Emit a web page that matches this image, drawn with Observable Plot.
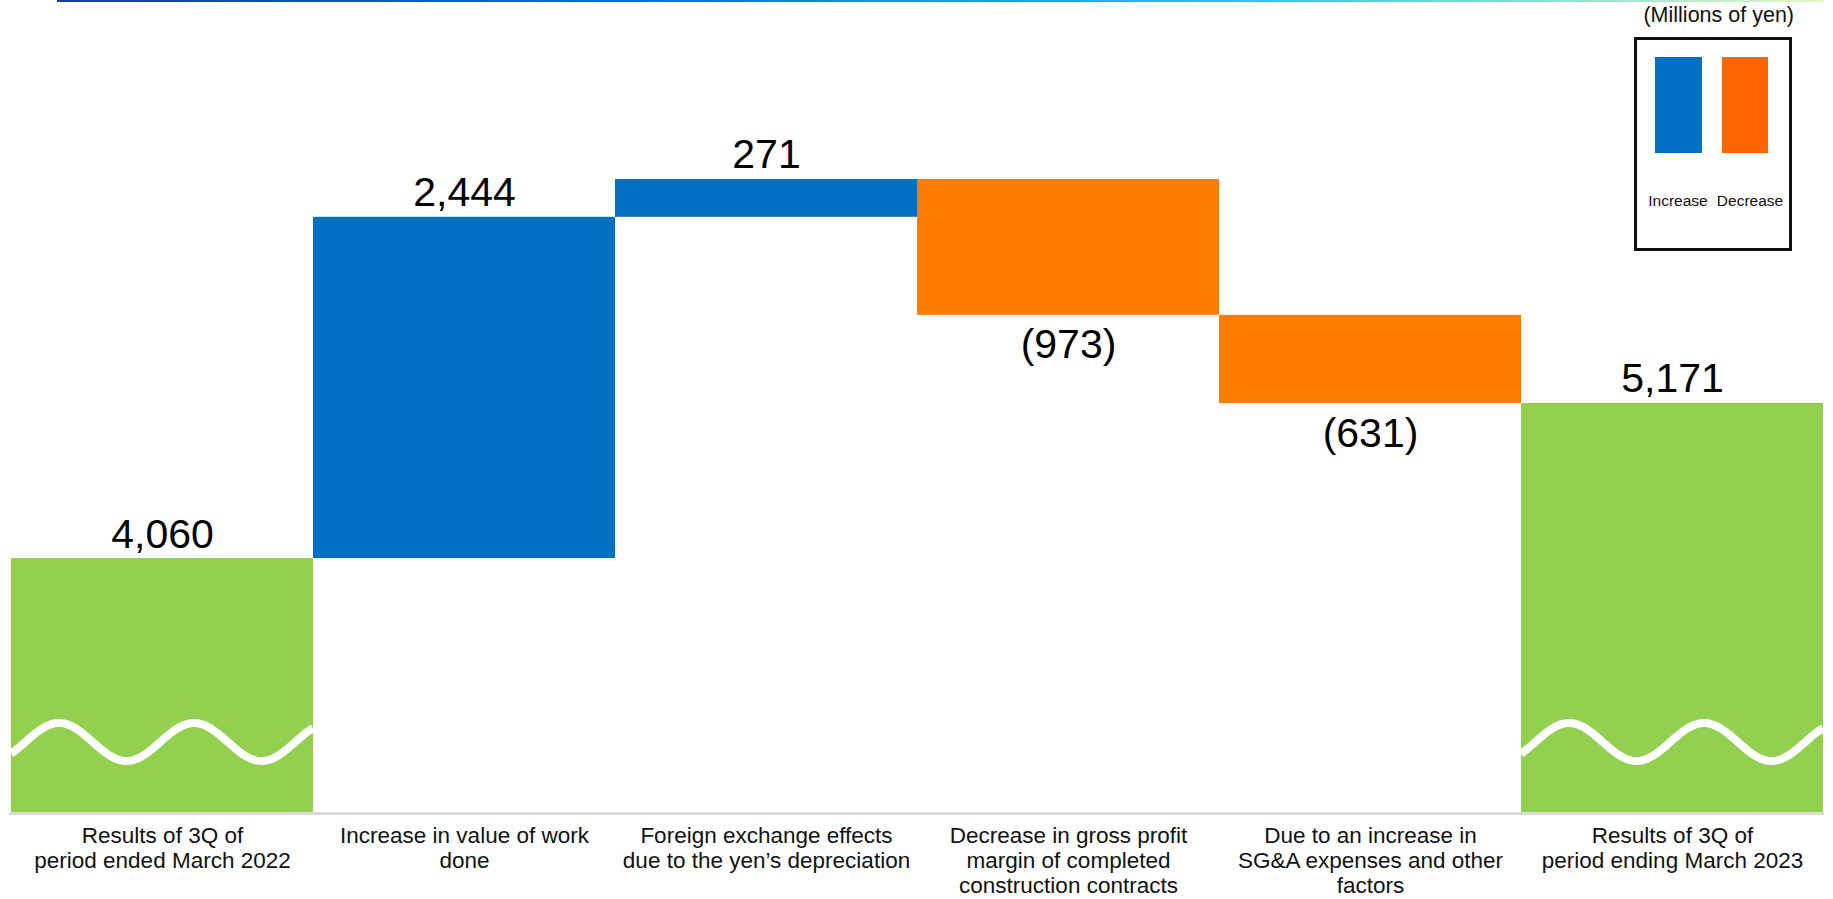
<!DOCTYPE html>
<html>
<head>
<meta charset="utf-8">
<script src="https://cdn.jsdelivr.net/npm/d3@7"></script>
<script src="https://cdn.jsdelivr.net/npm/@observablehq/plot@0.6"></script>
<style>
  html, body { margin: 0; padding: 0; background: #fff; }
  body { font-family: "Liberation Sans", Arial, sans-serif; }
  #wrap { position: relative; width: 1833px; height: 899px; overflow: hidden; }
  #topline { position: absolute; left: 57px; top: 0; width: 1767px; height: 2px;
    background: linear-gradient(to right, #1b3c94 0%, #0b72c0 33%, #2cc2e6 66%, #e2f7c4 100%); }
  #unit { position: absolute; right: 39px; top: 3px; font-size: 21.5px; color: #111; line-height: 24px; }
  #legend { position: absolute; left: 1634px; top: 37px; width: 152px; height: 208px; border: 3px solid #111; }
  .sw { position: absolute; top: 17px; height: 96px; }
  .lab { position: absolute; top: 152px; font-size: 15.5px; color: #111; transform: translateX(-50%); white-space: nowrap; }
  svg { position: absolute; left: 0; top: 0; }
</style>
</head>
<body>
<div id="wrap">
  <div id="topline"></div>
  <div id="unit">(Millions of yen)</div>
  <div id="legend">
    <div class="sw" style="left:18px;width:47px;background:#0070c0"></div>
    <div class="sw" style="left:85px;width:46px;background:#ff6600"></div>
    <div class="lab" style="left:41px">Increase</div>
    <div class="lab" style="left:113px">Decrease</div>
  </div>
</div>
<script>
// ---- data ----
const categories = [
  "Results of 3Q of\nperiod ended March 2022",
  "Increase in value of work\ndone",
  "Foreign exchange effects\ndue to the yen’s depreciation",
  "Decrease in gross profit\nmargin of completed\nconstruction contracts",
  "Due to an increase in\nSG&A expenses and other\nfactors",
  "Results of 3Q of\nperiod ending March 2023"
];
const kinds = ["total", "increase", "increase", "decrease", "decrease", "total"];
const values = [4060, 2444, 271, -973, -631, 5171];

const colors = {total: "#92d050", increase: "#0070c0", decrease: "#ff7c00"};
const yDomain = [2234, 8057]; // truncated (broken) axis, as marked by the wave

// build waterfall table
let running = 0;
const rows = categories.map((c, i) => {
  const k = kinds[i], v = values[i];
  let y1, y2;
  if (k === "total") { y1 = yDomain[0]; y2 = v; running = v; }
  else { y1 = running; y2 = running + v; running = y2; }
  return {category: c, kind: k, value: v, y1, y2,
          top: Math.max(y1, y2), bottom: Math.min(y1, y2),
          label: v < 0 ? `(${d3.format(",")(-v)})` : d3.format(",")(v)};
});

function waves(index, scales) {
  const g = d3.create("svg:g");
  const x = scales.x;
  const bw = typeof x.bandwidth === "function" ? x.bandwidth() : x.bandwidth;
  const base = scales.y(yDomain[0]);
  rows.filter(r => r.kind === "total").forEach(r => {
    const left = x(r.category);
    const pts = d3.range(0, bw + 1, 2).map(t => [left + Math.min(t, bw),
      base - 71 - 19 * Math.sin(2 * Math.PI * (Math.min(t, bw) - 48) / 135 + Math.PI / 2)]);
    g.append("path").attr("d", d3.line()(pts))
      .attr("fill", "none").attr("stroke", "white").attr("stroke-width", 8);
  });
  return g.node();
}

const chart = Plot.plot({
  width: 1833,
  height: 899,
  marginLeft: 9,
  marginRight: 9,
  marginTop: 0,
  marginBottom: 86,
  style: {fontFamily: "'Liberation Sans', Arial, sans-serif", background: "transparent", overflow: "visible"},
  x: {domain: categories, padding: 0, axis: null},
  y: {domain: yDomain, axis: null},
  marks: [
    Plot.barY(rows, {x: "category", y1: "y1", y2: "y2", fill: d => colors[d.kind], inset: 0}),
    waves,
    Plot.ruleY([yDomain[0]], {stroke: "#d9d9d9", strokeWidth: 3}),
    Plot.text(rows.filter(r => r.value >= 0), {x: "category", y: "top", text: "label",
      fontSize: 41, lineAnchor: "bottom", dy: -11, fill: "#000"}),
    Plot.text(rows.filter(r => r.value < 0), {x: "category", y: "bottom", text: "label",
      fontSize: 41, lineAnchor: "top", dy: 14, fill: "#000"}),
    Plot.text(categories, {x: d => d, frameAnchor: "bottom", text: d => d,
      fontSize: 22.5, lineHeight: 1.13, lineAnchor: "top", dy: 11, fill: "#111"})
  ]
});
document.getElementById("wrap").prepend(chart);
</script>
</body>
</html>
